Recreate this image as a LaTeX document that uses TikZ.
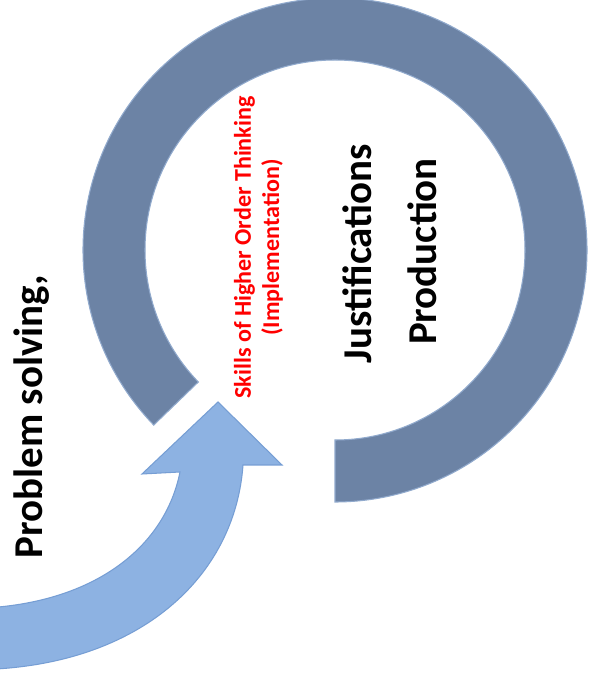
\documentclass[tikz,border=0pt]{standalone}
\usepackage{fontspec}
\setmainfont{Carlito}
\usepackage{tikz}
\usepackage{xcolor}
\usetikzlibrary{calc}
\definecolor{ringslate}{RGB}{108,131,165}
\definecolor{ringedge}{RGB}{145,170,205}
\definecolor{arrowsky}{RGB}{141,178,226}
\definecolor{arrowedge}{RGB}{118,158,212}
\definecolor{skillred}{RGB}{255,0,0}

\tikzset{
  bigtext/.style={font=\fontsize{23.3}{28}\selectfont\bfseries, rotate=90, inner sep=0pt},
  redtext/.style={text=skillred, font=\fontsize{13.7}{16}\selectfont\bfseries, rotate=90, align=center, inner sep=0pt}
}

\begin{document}
\begin{tikzpicture}

% 1. CANVAS
\clip (0,0) rectangle (11.8,13.54);
\fill[white] (0,0) rectangle (11.8,13.54);

% 2. GRAY RING (open at lower left)
\coordinate (ringc) at (6.70,8.54);
\fill[ringslate, draw=ringedge, line width=0.6pt] ($(ringc)+(224:5.04)$) arc (224:-90:5.04) -- ($(ringc)+(-90:3.80)$) arc (-90:224:3.80) -- cycle;

% 3. BLUE CURVED ARROW
\fill[arrowsky, draw=arrowedge, line width=0.6pt] (-0.3,0.15) .. controls (2.8,0.25) and (4.7,2.0) .. (4.86,4.24) -- (5.64,4.24) -- (4.36,5.50) -- (2.84,4.06) -- (3.60,4.10) .. controls (3.3,2.6) and (1.9,1.5) .. (-0.3,1.38) -- cycle;

% 4. LABELS
\node[bigtext] (problem) at (0.64,5.21) {Problem solving,};
\node[bigtext] (justif) at (7.15,8.47) {Justifications};
\node[bigtext] (prod) at (8.45,8.51) {Production};
\node[redtext] (skills) at (5.17,8.59) {Skills of Higher Order Thinking\\(Implementation)};

\end{tikzpicture}
\end{document}
